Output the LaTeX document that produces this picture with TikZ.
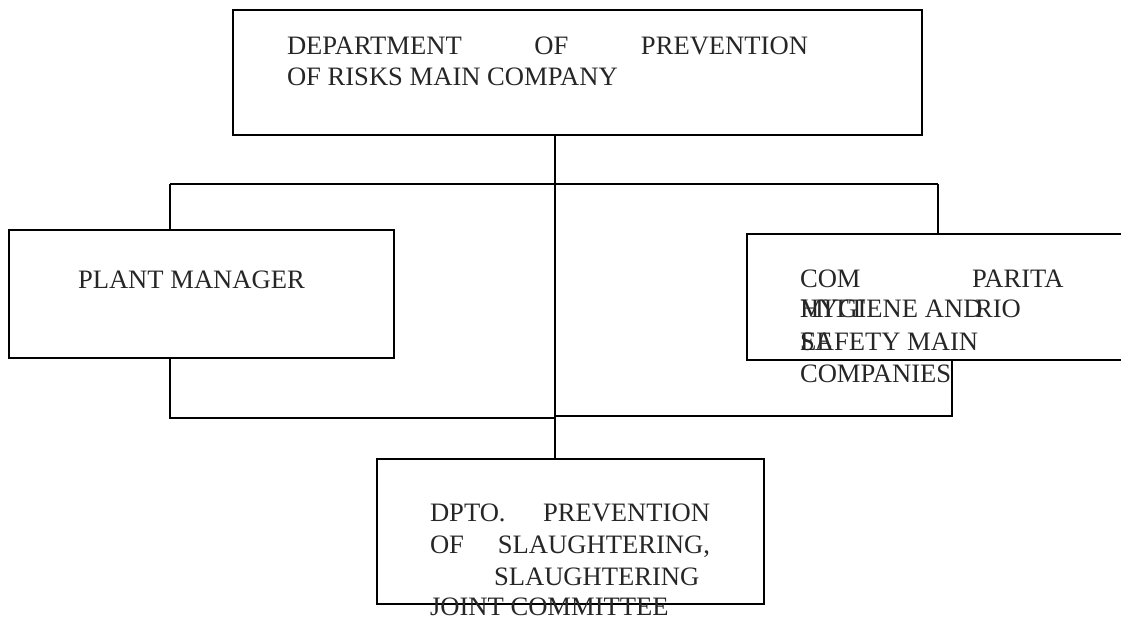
\documentclass[tikz,border=0pt]{standalone}
\usepackage{fontspec}
\setmainfont{Liberation Serif}
\begin{document}
\begin{tikzpicture}[x=1pt,y=-1pt,
  box/.style={draw,line width=1.4pt,rectangle,inner sep=0pt,outer sep=0pt,anchor=north west},
  lbl/.style={anchor=base west,inner sep=0pt,outer sep=0pt,font=\fontsize{26.6}{30}\selectfont,text=black!85},
  conn/.style={line width=1.4pt}]
\useasboundingbox (0,0) rectangle (1121,618);
\clip (0,0) rectangle (1121,618);
% boxes
\node[box,minimum width=689pt,minimum height=125pt] (top) at (233,10) {};
\node[box,minimum width=385pt,minimum height=128pt] (left) at (9,230) {};
\node[box,minimum width=383pt,minimum height=126pt] (right) at (747,234) {};
\node[box,minimum width=387pt,minimum height=145pt] (bot) at (377,459) {};
% connector points
\coordinate (tA) at (555,135);
\coordinate (hl) at (170,184);
\coordinate (hr) at (938,184);
\coordinate (ll) at (170,418);
\coordinate (rl) at (952,416);
% connectors
\draw[conn] (tA) -- (tA |- bot.north);
\draw[conn] (hl) -- (hr);
\draw[conn] (hl) -- (hl |- left.north);
\draw[conn] (hr) -- (hr |- right.north);
\draw[conn] (ll |- left.south) -- (ll) -- (ll -| tA);
\draw[conn] (rl |- right.south) -- (rl) -- (rl -| tA);
% texts
\node[lbl] (t1) at (287,55) {\hbox to 521pt{DEPARTMENT\hfill OF\hfill PREVENTION}};
\node[lbl] (t2) at (287,85) {OF RISKS MAIN COMPANY};
\node[lbl] (p1) at (78,288) {PLANT MANAGER};
\node[lbl] (r1) at (800,287) {COM};
\node[lbl] (r2) at (972,287) {PARITA};
\node[lbl] (r3) at (800,317) {MITT};
\node[lbl] (r4) at (975,317) {RIO};
\node[lbl] (r5) at (800,350) {EE};
\node[lbl] (s1) at (800,317) {HYGIENE AND};
\node[lbl] (s2) at (800,350) {SAFETY MAIN};
\node[lbl] (s3) at (800,382) {COMPANIES};
\node[lbl] (b1) at (430,521) {\hbox to 280pt{DPTO.\hfill PREVENTION}};
\node[lbl] (b2) at (430,553) {\hbox to 280pt{OF\hfill SLAUGHTERING,}};
\node[lbl] (b3) at (494,585) {SLAUGHTERING};
\node[lbl] (b4) at (430,615) {JOINT COMMITTEE};
\end{tikzpicture}
\end{document}
